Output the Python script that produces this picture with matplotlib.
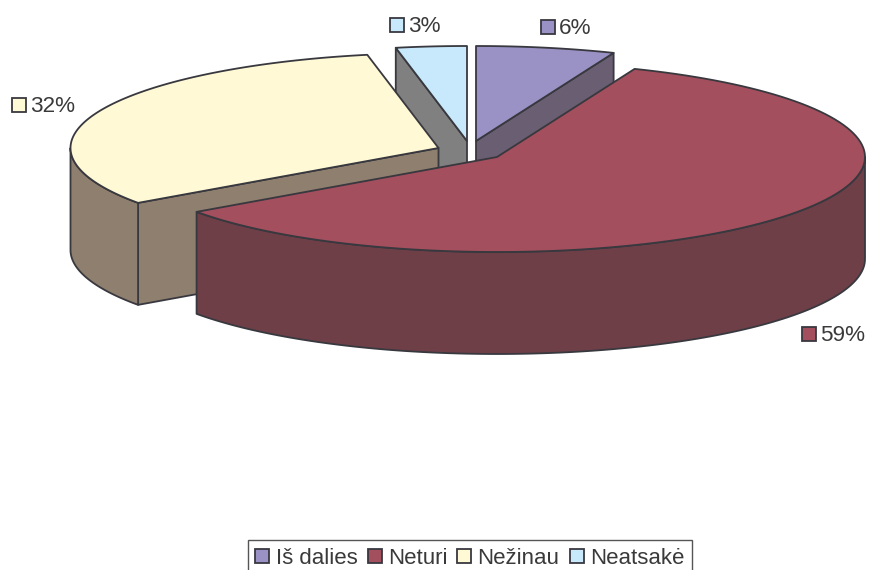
import numpy as np
import matplotlib
matplotlib.use('Agg')
import matplotlib.pyplot as plt
from matplotlib.patches import Polygon, Rectangle

plt.rcParams['font.family'] = ['Liberation Sans', 'DejaVu Sans']

categories = ['Iš dalies', 'Neturi', 'Nežinau', 'Neatsakė']
values = [6.1, 59.1, 31.7, 3.1]

top_colors = ['#9A91C5', '#A34F5E', '#FFF9D6', '#C8E9FB']
side_colors = ['#6A5F72', '#6F3F48', '#8F7F6E', '#808080']
edge = '#38383F'
text_color = '#3A3A3A'

# pie geometry in pixels
rx = 368
ry = 95
depth = 102
centers = [(476, 141), (497, 157), (438.5, 148), (467, 141)]
label_pos = [(541, 27), (802, 334), (12, 105), (390, 25)]
draw_order = [3, 0, 2, 1]

fig = plt.figure(figsize=(8.69, 5.70), dpi=100)
ax = fig.add_axes([0, 0, 1, 1])
ax.set_xlim(0, 869)
ax.set_ylim(570, 0)
ax.axis('off')


def rim(cx, cy, a, b, dy=0):
    # angles in degrees, clockwise from the top
    t = np.radians(np.linspace(a, b, 120))
    return np.column_stack([cx + rx * np.sin(t), cy - ry * np.cos(t) + dy])


def poly(points, color, z):
    ax.add_patch(Polygon(points, closed=True, facecolor=color, edgecolor=edge,
                         linewidth=1.3, joinstyle='round', zorder=z))


def swatch(x, y, color, size=14):
    ax.add_patch(Rectangle((x, y - size / 2), size, size, facecolor=color,
                           edgecolor=edge, linewidth=1.3, zorder=20))


stops = np.cumsum([0] + values) * 3.6

for z, i in enumerate(draw_order):
    a, b = stops[i], stops[i + 1]
    cx, cy = centers[i]
    base = z * 10 + 1

    # cut faces, only the ones turned towards the viewer
    for ang, front in ((a, 180 < a < 360), (b, 0 < b < 180)):
        if front:
            s = rim(cx, cy, ang, ang)[0]
            poly([(cx, cy), s, (s[0], s[1] + depth), (cx, cy + depth)], side_colors[i], base)

    # outer wall, front half of the ellipse
    lo, hi = max(a, 90), min(b, 270)
    if lo < hi:
        poly(np.vstack([rim(cx, cy, lo, hi), rim(cx, cy, hi, lo, depth)]), side_colors[i], base + 1)

    # top
    poly(np.vstack([[(cx, cy)], rim(cx, cy, a, b)]), top_colors[i], base + 2)

for i, (x, y) in enumerate(label_pos):
    swatch(x, y, top_colors[i])
    ax.text(x + 18, y + 1.5, f'{values[i]:.0f}%', fontsize=16.2, color=text_color, va='center', ha='left', zorder=20)

# legend
ax.add_patch(Rectangle((248, 539.5), 444, 40, facecolor='white', edgecolor='#555555', linewidth=1.0, zorder=19))
legend_x = [255, 368, 457, 570]
for x, name, color in zip(legend_x, categories, top_colors):
    swatch(x, 556, color)
    ax.text(x + 20.5, 558, name, fontsize=16, color=text_color, va='center', ha='left', zorder=20)

fig.savefig('out.png', dpi=100)
